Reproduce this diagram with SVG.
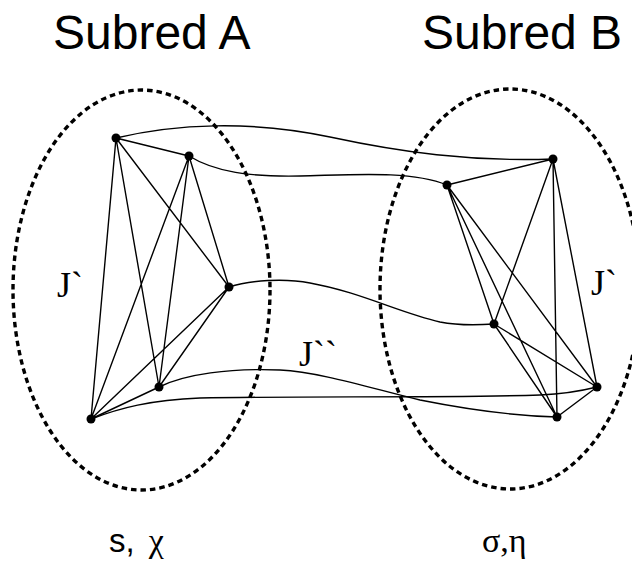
<svg xmlns="http://www.w3.org/2000/svg" width="632" height="561" viewBox="0 0 632 561">
<style>
.sub{fill:none;stroke:#000;stroke-width:3.4;stroke-dasharray:5.5 4}
.e{fill:none;stroke:#000;stroke-width:1.4}
.n{fill:#000}
.title{font-family:"Liberation Sans",Arial,sans-serif;font-size:48px;fill:#000}
.lbl{font-family:"Liberation Serif","Times New Roman",serif;font-size:36px;fill:#000}
.par{font-family:"Liberation Serif","Times New Roman",serif;font-size:34px;fill:#000}
</style>
<rect width="632" height="561" fill="#fff"/>
<g id="subred-a"><ellipse class="sub" cx="141.5" cy="290" rx="128.5" ry="200"/></g>
<g id="subred-b"><ellipse class="sub" cx="510" cy="289" rx="130" ry="200"/></g>
<g id="connectors">
<path class="e" d="M116,138 L189,156 M116,138 L229,287 M116,138 L159,387 M116,138 L91,419 M189,156 L229,287 M189,156 L159,387 M189,156 L91,419 M229,287 L159,387 M229,287 L91,419 M159,387 L91,419"/>
<path class="e" d="M553,159 L447,185 M553,159 L494,324 M553,159 L557,417 M553,159 L597,387 M447,185 L494,324 M447,185 L557,417 M447,185 L597,387 M494,324 L557,417 M494,324 L597,387 M597,387 L557,417"/>
<path class="e" d="M116,138 C175,124 250,120 330,137 C400,152 470,162 553,159"/>
<path class="e" d="M189,156 C215,172 250,177 300,176 S410,170 447,185"/>
<path class="e" d="M229,287 C250,280 285,278 310,283 C360,292 400,313 440,322 C460,326 480,325 494,324"/>
<path class="e" d="M159,387 C185,374 230,368 280,370 C320,372 370,388 420,400 C470,410 520,416 557,417"/>
<path class="e" d="M91,419 C120,408 150,400 200,398 C300,396 450,398 540,395 C565,394 585,390 597,387"/>
</g>
<g id="node-a1"><circle class="n" cx="116" cy="138" r="4.5"/></g>
<g id="node-a2"><circle class="n" cx="189" cy="156" r="4.5"/></g>
<g id="node-a3"><circle class="n" cx="229" cy="287" r="4.5"/></g>
<g id="node-a4"><circle class="n" cx="159" cy="387" r="4.5"/></g>
<g id="node-a5"><circle class="n" cx="91" cy="419" r="4.5"/></g>
<g id="node-b1"><circle class="n" cx="553" cy="159" r="4.5"/></g>
<g id="node-b2"><circle class="n" cx="447" cy="185" r="4.5"/></g>
<g id="node-b3"><circle class="n" cx="494" cy="324" r="4.5"/></g>
<g id="node-b4"><circle class="n" cx="597" cy="387" r="4.5"/></g>
<g id="node-b5"><circle class="n" cx="557" cy="417" r="4.5"/></g>
<g id="labels">
<text class="title" x="53" y="49">Subred A</text>
<text class="title" x="422" y="49">Subred B</text>
<text class="lbl" x="57" y="297">J`</text>
<text class="lbl" x="591" y="295">J`</text>
<text class="lbl" x="299" y="366">J``</text>
<text class="par" x="109" y="552"><tspan font-family="Liberation Sans, Arial, sans-serif" font-size="33">s,</tspan><tspan dx="14">χ</tspan></text>
<text class="par" x="482" y="552">σ,η</text>
</g>
</svg>
